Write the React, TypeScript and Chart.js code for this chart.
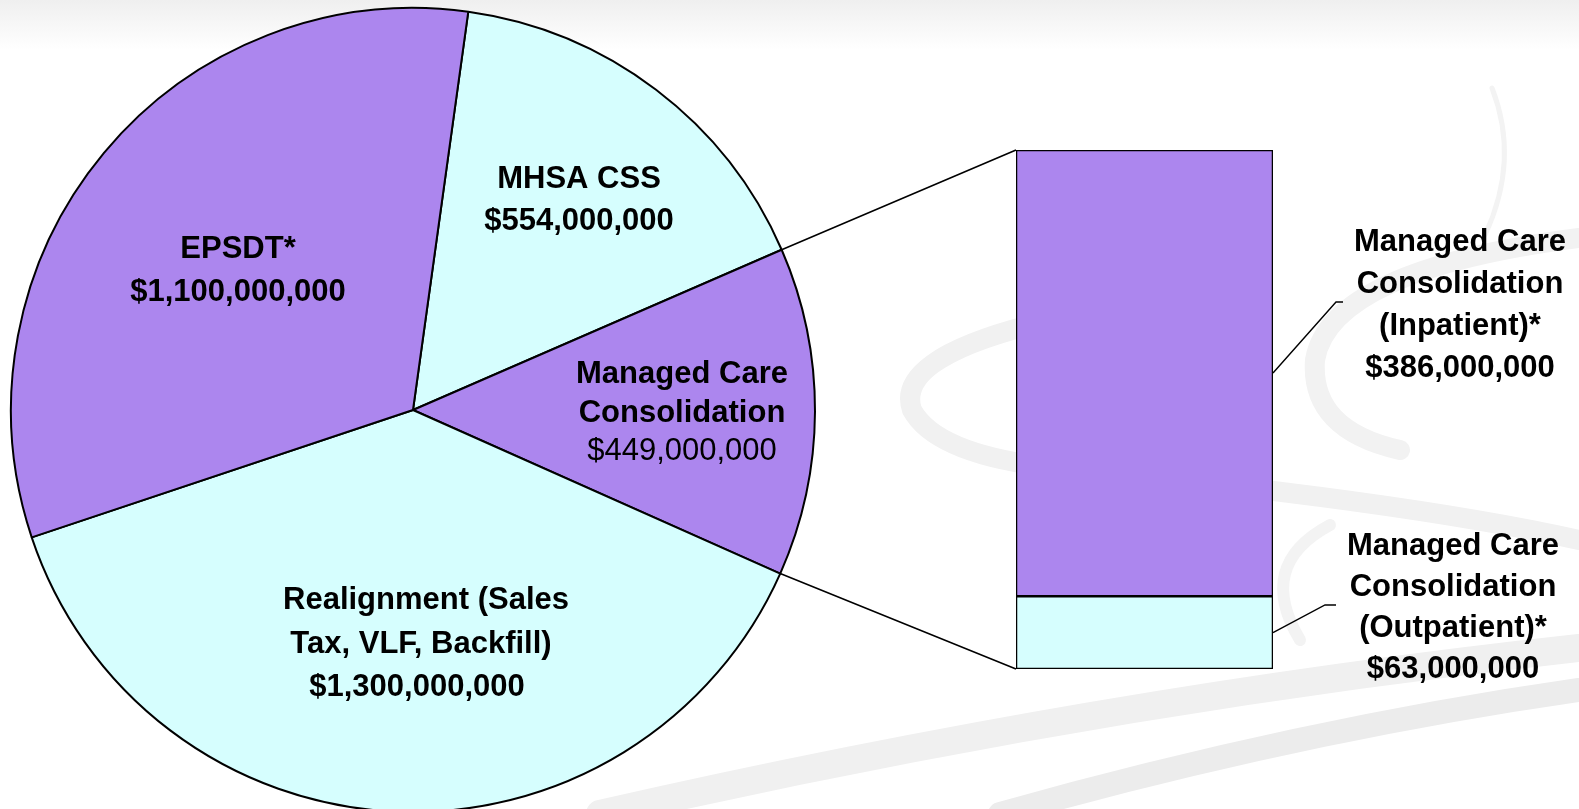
import React, { useEffect, useRef } from "react";
import { Chart, registerables } from "chart.js";

Chart.register(...registerables);

// ---------- DATA ----------
const pieCategories = [
  "MHSA CSS",
  "Managed Care Consolidation",
  "Realignment (Sales Tax, VLF, Backfill)",
  "EPSDT*",
];
const pieValuesMillions = [554, 449, 1300, 1100];
const pieLabelLines = [
  ["MHSA CSS"],
  ["Managed Care", "Consolidation"],
  ["Realignment (Sales", "Tax, VLF, Backfill)"],
  ["EPSDT*"],
];
const barCategories = [
  "Managed Care Consolidation (Outpatient)*",
  "Managed Care Consolidation (Inpatient)*",
];
const barValuesMillions = [63, 386];
const barLabelLines = [
  ["Managed Care", "Consolidation", "(Outpatient)*"],
  ["Managed Care", "Consolidation", "(Inpatient)*"],
];
const explodedSliceIndex = 1;

// ---------- STYLE / LAYOUT ----------
const W = 1579;
const H = 809;
const PIE_CX = 413;
const PIE_CY = 410;
const PIE_R = 402;
const PURPLE = "#AC86EE";
const CYAN = "#D6FEFE";
const pieColors = [CYAN, PURPLE, CYAN, PURPLE];
const barColors = [CYAN, PURPLE];
const FONT = "'Liberation Sans', Arial, Helvetica, sans-serif";
const FS = 31;

const pieLabelLayout = [
  { xs: [579, 579], y: 177, gap: 42, valueBold: true },
  { xs: [682, 682, 682], y: 372, gap: 38.5, valueBold: false },
  { xs: [426, 421, 417], y: 598, gap: 43.5, valueBold: true },
  { xs: [238, 238], y: 247, gap: 43, valueBold: true },
];
const barLabelLayout = [
  { x: 1453, y: 544, gap: 41, elbowX: 1325, elbowY: 605, tail: 11 },
  { x: 1460, y: 240, gap: 42, elbowX: 1336, elbowY: 302, tail: 7 },
];

const fmt = (m: number) => "$" + (m * 1e6).toLocaleString("en-US");

function drawTextLine(ctx: CanvasRenderingContext2D, text: string, x: number, yCenter: number, bold: boolean) {
  ctx.font = `${bold ? "bold " : ""}${FS}px ${FONT}`;
  ctx.fillStyle = "#000";
  ctx.textAlign = "center";
  ctx.textBaseline = "alphabetic";
  ctx.fillText(text, x, yCenter + FS * 0.358);
}

const backgroundPlugin = {
  id: "bgSwirls",
  beforeDraw(chart: any) {
    const ctx: CanvasRenderingContext2D = chart.ctx;
    ctx.save();
    ctx.fillStyle = "#ffffff";
    ctx.fillRect(0, 0, W, H);
    const g = ctx.createLinearGradient(0, 0, 0, 50);
    g.addColorStop(0, "#efefef");
    g.addColorStop(1, "#ffffff");
    ctx.fillStyle = g;
    ctx.fillRect(0, 0, W, 50);

    ctx.lineCap = "round";
    const stroke = (c: string, w: number, f: (c: CanvasRenderingContext2D) => void) => {
      ctx.strokeStyle = c;
      ctx.lineWidth = w;
      ctx.beginPath();
      f(ctx);
      ctx.stroke();
    };
    // thin arc top right
    stroke("#f3f3f3", 5, (c) => {
      c.moveTo(1492, 88);
      c.quadraticCurveTo(1520, 160, 1485, 235);
    });
    // upper right crescent
    stroke("#f2f2f2", 20, (c) => {
      c.moveTo(1579, 238);
      c.quadraticCurveTo(1330, 270, 1315, 360);
      c.quadraticCurveTo(1310, 430, 1400, 450);
    });
    // left loop behind bar and sweep to the right
    stroke("#f1f1f1", 20, (c) => {
      c.moveTo(1030, 325);
      c.quadraticCurveTo(895, 360, 912, 410);
      c.quadraticCurveTo(935, 452, 1040, 466);
      c.quadraticCurveTo(1400, 500, 1579, 540);
    });
    // lower "(" behind outpatient label
    stroke("#f3f3f3", 12, (c) => {
      c.moveTo(1330, 525);
      c.quadraticCurveTo(1255, 565, 1300, 640);
    });
    // bottom bands
    stroke("#f0f0f0", 28, (c) => {
      c.moveTo(600, 814);
      c.quadraticCurveTo(1100, 700, 1579, 648);
    });
    stroke("#ececec", 24, (c) => {
      c.moveTo(1000, 814);
      c.quadraticCurveTo(1300, 730, 1579, 690);
    });
    ctx.restore();
  },
};

const pieLabelPlugin = {
  id: "pieLabels",
  afterDatasetsDraw(chart: any) {
    const ctx: CanvasRenderingContext2D = chart.ctx;
    ctx.save();
    pieLabelLines.forEach((lines, i) => {
      const lay = pieLabelLayout[i];
      const all = [...lines, fmt(pieValuesMillions[i])];
      all.forEach((t, k) => {
        const isValue = k === all.length - 1;
        drawTextLine(ctx, t, lay.xs[k], lay.y + k * lay.gap, isValue ? lay.valueBold : true);
      });
    });
    ctx.restore();
  },
};

export default function App() {
  const pieRef = useRef<HTMLCanvasElement>(null);
  const barRef = useRef<HTMLCanvasElement>(null);

  useEffect(() => {
    const pieChart = new Chart(pieRef.current as HTMLCanvasElement, {
      type: "pie",
      data: {
        labels: pieCategories,
        datasets: [
          {
            data: pieValuesMillions,
            backgroundColor: pieColors,
            borderColor: "#000000",
            borderWidth: 2,
            clip: false,
          } as any,
        ],
      },
      options: {
        responsive: false,
        animation: false,
        events: [],
        devicePixelRatio: 1,
        rotation: 7.9,
        radius: PIE_R,
        layout: { padding: { left: 0, right: W - 2 * PIE_CX, top: 2 * PIE_CY - H, bottom: 0 } },
        plugins: { legend: { display: false }, tooltip: { enabled: false } },
      } as any,
      plugins: [backgroundPlugin, pieLabelPlugin],
    });

    const total = barValuesMillions.reduce((a, b) => a + b, 0);

    const connectorPlugin = {
      id: "connectors",
      beforeDatasetsDraw(chart: any) {
        const ctx: CanvasRenderingContext2D = chart.ctx;
        const arc: any = pieChart.getDatasetMeta(0).data[explodedSliceIndex];
        const a = arc.getProps(["x", "y", "startAngle", "endAngle", "outerRadius"], true);
        const bottomBar: any = chart.getDatasetMeta(0).data[0];
        const topBar: any = chart.getDatasetMeta(chart.data.datasets.length - 1).data[0];
        const left = topBar.x - topBar.width / 2;
        const p1 = { x: a.x + a.outerRadius * Math.cos(a.startAngle), y: a.y + a.outerRadius * Math.sin(a.startAngle) };
        const p2 = { x: a.x + a.outerRadius * Math.cos(a.endAngle), y: a.y + a.outerRadius * Math.sin(a.endAngle) };
        ctx.save();
        ctx.strokeStyle = "#000";
        ctx.lineWidth = 1.6;
        ctx.beginPath();
        ctx.moveTo(p1.x, p1.y);
        ctx.lineTo(left, topBar.y);
        ctx.moveTo(p2.x, p2.y);
        ctx.lineTo(left, bottomBar.base);
        ctx.stroke();
        ctx.restore();
      },
      afterDatasetsDraw(chart: any) {
        const ctx: CanvasRenderingContext2D = chart.ctx;
        ctx.save();
        barLabelLines.forEach((lines, i) => {
          const el: any = chart.getDatasetMeta(i).data[0];
          const right = el.x + el.width / 2;
          const midY = (el.y + el.base) / 2;
          const lay = barLabelLayout[i];
          ctx.strokeStyle = "#000";
          ctx.lineWidth = 1.4;
          ctx.beginPath();
          ctx.moveTo(right, midY);
          ctx.lineTo(lay.elbowX, lay.elbowY);
          ctx.lineTo(lay.elbowX + lay.tail, lay.elbowY);
          ctx.stroke();
          const all = [...lines, fmt(barValuesMillions[i])];
          all.forEach((t, k) => drawTextLine(ctx, t, lay.x, lay.y + k * lay.gap, true));
        });
        ctx.restore();
      },
    };

    const barChart = new Chart(barRef.current as HTMLCanvasElement, {
      type: "bar",
      data: {
        labels: [""],
        datasets: barValuesMillions.map((v, i) => ({
          label: barCategories[i],
          data: [v],
          backgroundColor: barColors[i],
          borderColor: "#000000",
          borderWidth: 1.6,
          borderSkipped: false,
          categoryPercentage: 1,
          barPercentage: 1,
        })) as any,
      },
      options: {
        responsive: false,
        animation: false,
        events: [],
        devicePixelRatio: 1,
        layout: { padding: { left: 1016, right: W - 1273, top: 150, bottom: H - 669 } },
        scales: {
          x: { display: false, stacked: true },
          y: { display: false, stacked: true, min: 0, max: total },
        },
        plugins: { legend: { display: false }, tooltip: { enabled: false } },
      } as any,
      plugins: [connectorPlugin],
    });

    return () => {
      barChart.destroy();
      pieChart.destroy();
    };
  }, []);

  return (
    <div style={{ position: "absolute", left: 0, top: 0, width: W, height: H, overflow: "hidden", background: "#fff" }}>
      <canvas ref={pieRef} width={W} height={H} style={{ position: "absolute", left: 0, top: 0, width: W, height: H }} />
      <canvas ref={barRef} width={W} height={H} style={{ position: "absolute", left: 0, top: 0, width: W, height: H }} />
    </div>
  );
}
